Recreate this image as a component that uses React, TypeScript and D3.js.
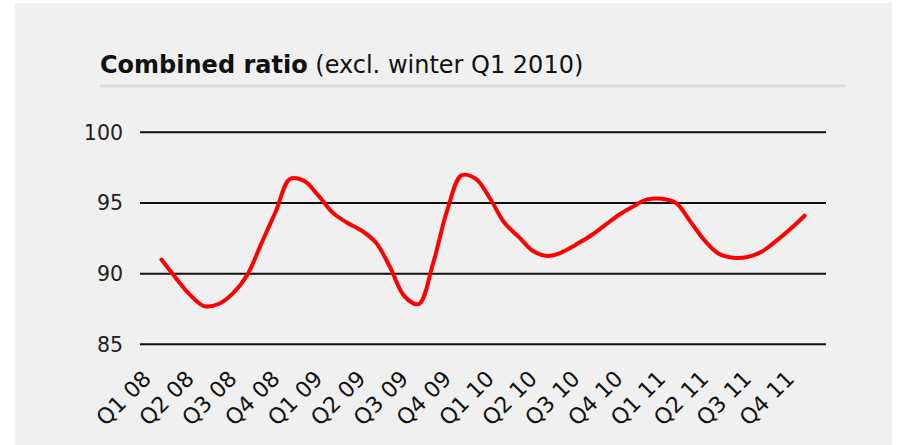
import React from "react";
import * as d3 from "d3";

const quarterLabels = [
  "Q1 08", "Q2 08", "Q3 08", "Q4 08",
  "Q1 09", "Q2 09", "Q3 09", "Q4 09",
  "Q1 10", "Q2 10", "Q3 10", "Q4 10",
  "Q1 11", "Q2 11", "Q3 11", "Q4 11",
];

// Monthly readings of the combined ratio (3 points per quarter)
const ratioValues = [
  91.0, 89.7, 88.5, 87.7, 87.85, 88.6, 89.9, 92.15, 94.4, 96.7,
  96.55, 95.5, 94.3, 93.6, 93.05, 92.2, 90.45, 88.4, 87.85, 90.7,
  94.5, 96.95, 96.7, 95.3, 93.6, 92.6, 91.6, 91.25, 91.5, 92.05,
  92.66, 93.4, 94.15, 94.75, 95.25, 95.3, 95.0, 93.7, 92.35, 91.4,
  91.13, 91.18, 91.55, 92.3, 93.15, 94.1,
];

const yTicks = [85, 90, 95, 100];

const W = 897;
const H = 445;
const plotLeft = 140;
const plotRight = 826;
const FONT = "'DejaVu Sans', Verdana, sans-serif";

export default function App() {
  const xBand = d3
    .scaleBand<string>()
    .domain(quarterLabels)
    .range([plotLeft, plotRight])
    .padding(0);
  const xq = d3
    .scaleLinear()
    .domain([-0.5, quarterLabels.length - 0.5])
    .range([plotLeft, plotRight]);
  const y = d3.scaleLinear().domain([85, 100]).range([344.3, 132.3]);

  const line = d3
    .line<number>()
    .x((_, i) => xq(i / 3))
    .y((d) => y(d))
    .curve(d3.curveCatmullRom.alpha(0.5));

  return (
    <svg
      width={W}
      height={H}
      style={{ position: "absolute", left: 0, top: 0 }}
      fontFamily={FONT}
    >
      <rect x={0} y={0} width={W} height={H} fill="#ffffff" />
      <rect x={15} y={3} width={877} height={H - 3} fill="#f0f0f0" />
      <text x={100} y={73} fontSize={24} fill="#111">
        <tspan fontWeight="bold">Combined ratio</tspan>
        <tspan> (excl. winter Q1 2010)</tspan>
      </text>
      <line x1={100} x2={846} y1={86} y2={86} stroke="#dcdcdc" strokeWidth={3} />
      {yTicks.map((t) => (
        <g key={t}>
          <line
            x1={plotLeft}
            x2={plotRight}
            y1={y(t)}
            y2={y(t)}
            stroke="#111"
            strokeWidth={2}
          />
          <text
            x={123}
            y={y(t)}
            dy="0.36em"
            textAnchor="end"
            fontSize={20.5}
            fill="#222"
          >
            {t}
          </text>
        </g>
      ))}
      <path
        d={line(ratioValues) || ""}
        fill="none"
        stroke="#ff0000"
        strokeWidth={4}
        strokeLinejoin="round"
        strokeLinecap="round"
      />
      {quarterLabels.map((q) => {
        const cx = (xBand(q) as number) + xBand.bandwidth() / 2;
        return (
          <text
            key={q}
            transform={`translate(${cx - 9},${380}) rotate(-45)`}
            textAnchor="end"
            fontSize={22}
            fill="#111"
          >
            {q}
          </text>
        );
      })}
    </svg>
  );
}
